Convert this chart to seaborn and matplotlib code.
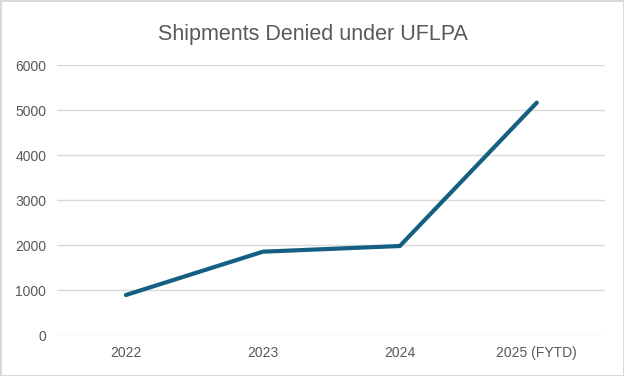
import matplotlib
matplotlib.use("Agg")
import matplotlib.pyplot as plt
import seaborn as sns
import pandas as pd

years = ["2022", "2023", "2024", "2025 (FYTD)"]
shipments = [889, 1852, 1978, 5165]
y_ticks = [0, 1000, 2000, 3000, 4000, 5000, 6000]

df = pd.DataFrame({"year": years, "shipments": shipments})

sns.set_theme(style="white")
plt.rcParams["font.family"] = ["Liberation Sans", "DejaVu Sans"]

fig, ax = plt.subplots(figsize=(6.24, 3.76), dpi=100)
fig.patch.set_edgecolor("#d9d9d9")
fig.patch.set_linewidth(2)

sns.lineplot(data=df, x="year", y="shipments", color="#156082", linewidth=3,
             sort=False, ax=ax, solid_capstyle="round")

ax.set_ylim(0, 6000)
ax.set_xlim(-0.5, 3.5)
ax.set_yticks(y_ticks)
ax.grid(axis="y", color="#d9d9d9", linewidth=1)
ax.set_axisbelow(True)
for s in ax.spines.values():
    s.set_visible(False)
ax.tick_params(axis="both", length=0, labelsize=10, labelcolor="#595959", pad=8)
ax.set_xlabel("")
ax.set_ylabel("")
# title is centred on the whole figure, not the plot area
ax.set_title("Shipments Denied under UFLPA", fontsize=15.5, color="#595959", pad=18, x=0.466)

fig.subplots_adjust(left=0.092, right=0.97, top=0.827, bottom=0.109)
fig.savefig("out.png", dpi=100)
